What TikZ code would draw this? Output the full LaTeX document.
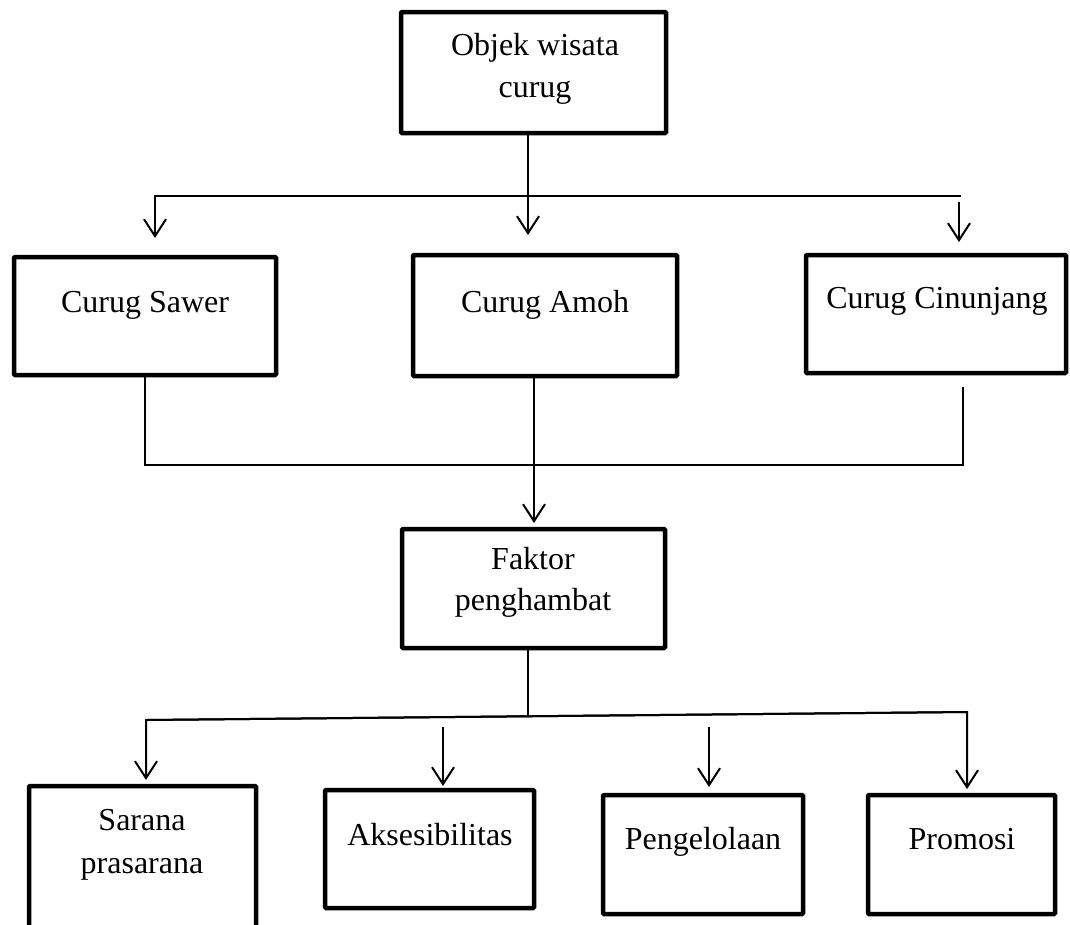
\documentclass[tikz,border=0pt]{standalone}
\usepackage{fontspec}
\setmainfont{Liberation Serif}
\usetikzlibrary{arrows.meta}
\begin{document}
\begin{tikzpicture}[x=1pt,y=-1pt,
  box/.style={draw, line width=4.5pt, rounded corners=1pt, inner sep=0pt, outer sep=0pt},
  ln/.style={line width=2pt},
  arr/.style={line width=2pt, -{Straight Barb[length=17pt,width=22pt]}},
  txt/.style={font=\fontsize{32}{42}\selectfont, inner sep=0pt, anchor=base}]
\useasboundingbox (0,0) rectangle (1070,924);
\clip (0,0) rectangle (1070,924);

% boxes
\node[box, minimum width=265pt, minimum height=121pt] (objek) at (533.5,72.5) {};
\node[box, minimum width=262pt, minimum height=118pt] (sawer) at (145,316) {};
\node[box, minimum width=264pt, minimum height=121pt] (amoh) at (545,315.5) {};
\node[box, minimum width=260pt, minimum height=118pt] (cinunjang) at (936,314) {};
\node[box, minimum width=263pt, minimum height=119pt] (faktor) at (533.5,588.5) {};
\node[box, minimum width=227pt, minimum height=144pt] (sarana) at (142.5,858) {};
\node[box, minimum width=209pt, minimum height=118pt] (aks) at (429.5,849) {};
\node[box, minimum width=200pt, minimum height=119pt] (peng) at (703,854.5) {};
\node[box, minimum width=187pt, minimum height=119pt] (promosi) at (961.5,854.5) {};

% texts
\node[txt] (objek-t1) at (535,55) {Objek wisata};
\node[txt] (objek-t2) at (535,97) {curug};
\node[txt] (sawer-t) at (145,312) {Curug Sawer};
\node[txt] (amoh-t) at (545,312) {Curug Amoh};
\node[txt] (cinunjang-t) at (937,308) {Curug Cinunjang};
\node[txt] (faktor-t1) at (533,569) {Faktor};
\node[txt] (faktor-t2) at (533,610) {penghambat};
\node[txt] (sarana-t1) at (142,830) {Sarana};
\node[txt] (sarana-t2) at (142,873) {prasarana};
\node[txt] (aks-t) at (430,845) {Aksesibilitas};
\node[txt] (peng-t) at (703,849) {Pengelolaan};
\node[txt] (promosi-t) at (962,849) {Promosi};

% junction coordinates
\coordinate (tA) at (528,235);
\coordinate (hL) at (155,196);
\coordinate (hR) at (961,196);
\coordinate (tS) at (155,238);
\coordinate (cR0) at (959,202);
\coordinate (tC) at (959,242);
\coordinate (mL) at (145,465);
\coordinate (mR) at (963,465);
\coordinate (cU) at (963,387);
\coordinate (tF) at (534,523);
\coordinate (fB) at (528,716);
\coordinate (bL) at (146,720);
\coordinate (bR) at (967,712);
\coordinate (tSar) at (146,780);
\coordinate (tPro) at (967,789);
\coordinate (aks0) at (443,727);
\coordinate (tAks) at (443,786);
\coordinate (peng0) at (709,727);
\coordinate (tPeng) at (709,787);

% top level
\draw[arr] (objek.south -| tA) -- (tA);
\draw[arr] (hR) -- (hL) -- (tS);
\draw[arr] (cR0) -- (tC);

% middle level
\draw[ln, line join=miter] (sawer.south) -- (mL) -- (mR) -- (cU);
\draw[arr] (amoh.south -| tF) -- (tF);

% bottom level
\draw[ln] (faktor.south -| fB) -- (fB);
\draw[arr] (bR) -- (bL) -- (tSar);
\draw[arr] (bL) -- (bR) -- (tPro);
\draw[arr] (aks0) -- (tAks);
\draw[arr] (peng0) -- (tPeng);
\end{tikzpicture}
\end{document}
